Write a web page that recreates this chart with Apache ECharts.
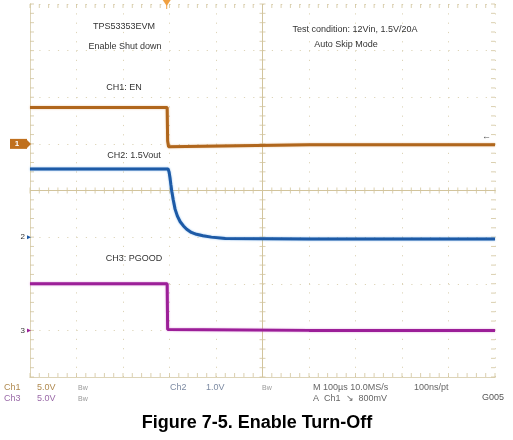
<!DOCTYPE html>
<html>
<head>
<meta charset="utf-8">
<script src="https://cdn.jsdelivr.net/npm/echarts@6/dist/echarts.min.js"></script>
<style>
  html, body { margin: 0; padding: 0; background: #fff; }
  #chart { width: 513px; height: 440px; }
</style>
</head>
<body>
<div id="chart"></div>
<script>
// Scope capture: 100 us/div over 10 divisions, 8 vertical divisions.
// Time is in microseconds from the left edge of the screen.

// CH1: EN (5 V/div)
const ch1Time  = [0, 150, 295, 296, 298, 302, 600, 1000];
const ch1Volts = [3.9, 3.9, 3.9, 0.3, -0.3, -0.1, -0.1, -0.1];

// CH2: 1.5 V output (1 V/div)
const ch2Time  = [0, 150, 297, 299, 301, 303, 305, 308, 312, 317, 323, 330, 337, 347, 358, 372, 390, 420, 600, 1000];
const ch2Volts = [1.46, 1.46, 1.46, 1.40, 1.28, 1.12, 0.98, 0.80, 0.60, 0.45, 0.33, 0.24, 0.17, 0.10, 0.06, 0.03, 0.0, -0.03, -0.04, -0.04];

// CH3: PGOOD (5 V/div)
const ch3Time  = [0, 150, 295, 296, 298, 600, 1000];
const ch3Volts = [5.0, 5.0, 5.0, 0.1, 0.0, 0.0, 0.0];

// Channel display settings: volts per division and ground position (divisions from bottom)
const ch1Scale = 5, ch1Ground = 5;
const ch2Scale = 1, ch2Ground = 3;
const ch3Scale = 5, ch3Ground = 1;

// Trigger time on screen
const triggerTime = 294;

const toTrace = (t, v, scale, ground) => t.map((x, i) => [x, ground + v[i] / scale]);

const gridColor = '#ddd4b8';
const tickColor = '#d2c49c';
const font = '"Liberation Sans", Arial, sans-serif';

// Graticule ticks every 1/5 division: centre crosshair and the four borders
const hTicks = [], vTicks = [], topTicks = [], bottomTicks = [], leftTicks = [], rightTicks = [];
for (let k = 0; k <= 50; k++) {
  hTicks.push([k * 20, 4]);
  topTicks.push([k * 20, 8]);
  bottomTicks.push([k * 20, 0]);
}
for (let k = 0; k <= 40; k++) {
  vTicks.push([500, k * 0.2]);
  leftTicks.push([0, k * 0.2]);
  rightTicks.push([1000, k * 0.2]);
}

const chart = echarts.init(document.getElementById('chart'), null, { renderer: 'canvas' });

const gridAxisX = (pos) => ({
  type: 'value', min: 0, max: 1000, interval: 100, position: pos,
  axisLine: { show: true, lineStyle: { color: gridColor, width: 1 } },
  axisTick: { show: false },
  axisLabel: { show: false },
  splitLine: { show: pos === 'bottom', lineStyle: { color: gridColor, type: [1.2, 8.1], width: 1 } }
});
const gridAxisY = (pos) => ({
  type: 'value', min: 0, max: 8, interval: 1, position: pos,
  axisLine: { show: true, lineStyle: { color: gridColor, width: 1 } },
  axisTick: { show: false },
  axisLabel: { show: false },
  splitLine: { show: pos === 'left', lineStyle: { color: gridColor, type: [1.2, 8.1], width: 1 } }
});

const tickSeries = (data, size, offset) => ({
  type: 'scatter', data, symbol: 'rect', symbolSize: size, symbolOffset: offset, silent: true,
  itemStyle: { color: tickColor }, z: 1
});

const scopeText = (x, y, text, extra) => Object.assign({
  type: 'text', x, y,
  style: Object.assign({ text, fill: '#333', font: '9px ' + font, align: 'center', verticalAlign: 'middle' }, extra || {})
});

chart.setOption({
  animation: false,
  backgroundColor: '#fff',
  grid: { left: 30, right: 18, top: 4, bottom: 63 },
  xAxis: [gridAxisX('bottom'), gridAxisX('top')],
  yAxis: [gridAxisY('left'), gridAxisY('right')],
  series: [
    {
      // centre crosshair lines
      type: 'line', data: [], silent: true,
      markLine: {
        silent: true, symbol: 'none', label: { show: false },
        lineStyle: { color: tickColor, type: 'solid', width: 1 },
        data: [{ xAxis: 500 }, { yAxis: 4 }]
      }
    },
    tickSeries(hTicks, [1, 6], [0, 0]),
    tickSeries(vTicks, [6, 1], [0, 0]),
    tickSeries(topTicks, [1, 4], [0, 2]),
    tickSeries(bottomTicks, [1, 4], [0, -2]),
    tickSeries(leftTicks, [4, 1], [2, 0]),
    tickSeries(rightTicks, [4, 1], [-2, 0]),
    {
      name: 'CH1', type: 'line', showSymbol: false, z: 5,
      data: toTrace(ch1Time, ch1Volts, ch1Scale, ch1Ground),
      lineStyle: { color: '#b0661c', width: 3, shadowColor: 'rgba(214,150,80,0.6)', shadowBlur: 2 }
    },
    {
      name: 'CH2', type: 'line', showSymbol: false, z: 5,
      data: toTrace(ch2Time, ch2Volts, ch2Scale, ch2Ground),
      lineStyle: { color: '#1d5aa6', width: 3, shadowColor: 'rgba(90,160,230,0.7)', shadowBlur: 2 }
    },
    {
      name: 'CH3', type: 'line', showSymbol: false, z: 5,
      data: toTrace(ch3Time, ch3Volts, ch3Scale, ch3Ground),
      lineStyle: { color: '#9c1f98', width: 3, shadowColor: 'rgba(200,90,200,0.6)', shadowBlur: 2 }
    }
  ]
});

// Markers and annotations placed from the chart's own scales
const px = (x, y) => chart.convertToPixel({ gridIndex: 0 }, [x, y]);
const g1 = px(0, ch1Ground), g2 = px(0, ch2Ground), g3 = px(0, ch3Ground);
const trig = px(triggerTime, 8);
const trigLevel = px(1000, ch1Ground + 0.8 / ch1Scale);

const graphics = [
  // trigger position marker
  { type: 'polygon', shape: { points: [[trig[0] - 4, 0], [trig[0] + 4, 0], [trig[0], 6]] }, style: { fill: '#f0a040' }, z: 10 },
  { type: 'rect', shape: { x: trig[0] - 0.5, y: 4, width: 1, height: 5 }, style: { fill: '#f0a040' }, z: 10 },
  // channel ground markers
  { type: 'rect', shape: { x: 10, y: g1[1] - 5, width: 17, height: 10 }, style: { fill: '#c0701e' }, z: 10 },
  { type: 'text', x: 17, y: g1[1], style: { text: '1', fill: '#fff', font: 'bold 8px ' + font, align: 'center', verticalAlign: 'middle' }, z: 11 },
  { type: 'polygon', shape: { points: [[27, g1[1] - 4], [31, g1[1]], [27, g1[1] + 4]] }, style: { fill: '#c0701e' }, z: 10 },
  { type: 'text', x: 25, y: g2[1], style: { text: '2', fill: '#333', font: '8px ' + font, align: 'right', verticalAlign: 'middle' }, z: 10 },
  { type: 'polygon', shape: { points: [[27, g2[1] - 2], [31, g2[1]], [27, g2[1] + 2]] }, style: { fill: '#1d5aa6' }, z: 10 },
  { type: 'text', x: 25, y: g3[1], style: { text: '3', fill: '#333', font: '8px ' + font, align: 'right', verticalAlign: 'middle' }, z: 10 },
  { type: 'polygon', shape: { points: [[27, g3[1] - 2], [31, g3[1]], [27, g3[1] + 2]] }, style: { fill: '#9c1f98' }, z: 10 },
  // trigger level arrow on the right edge
  { type: 'text', x: trigLevel[0] - 4, y: trigLevel[1], style: { text: '←', fill: '#555', font: '9px ' + font, align: 'right', verticalAlign: 'middle' }, z: 10 },

  // annotations on the screen
  scopeText(124, 27, 'TPS53353EVM'),
  scopeText(125, 47, 'Enable Shut down'),
  scopeText(124, 88, 'CH1: EN'),
  scopeText(134, 156, 'CH2: 1.5Vout'),
  scopeText(134, 259, 'CH3: PGOOD'),
  scopeText(355, 30, 'Test condition: 12Vin, 1.5V/20A'),
  scopeText(346, 45, 'Auto Skip Mode'),

  // readout line 1
  scopeText(4, 388, 'Ch1', { align: 'left', fill: '#b08a50' }),
  scopeText(37, 388, '5.0V', { align: 'left', fill: '#b08a50' }),
  scopeText(78, 388, 'Bw', { align: 'left', fill: '#999', font: '7px ' + font }),
  scopeText(170, 388, 'Ch2', { align: 'left', fill: '#7d8ba3' }),
  scopeText(206, 388, '1.0V', { align: 'left', fill: '#7d8ba3' }),
  scopeText(262, 388, 'Bw', { align: 'left', fill: '#999', font: '7px ' + font }),
  scopeText(313, 388, 'M 100µs 10.0MS/s', { align: 'left', fill: '#666' }),
  scopeText(414, 388, '100ns/pt', { align: 'left', fill: '#666' }),
  // readout line 2 (bottom of the screen capture is cut off)
  scopeText(4, 399, 'Ch3', { align: 'left', fill: '#9a6aa8' }),
  scopeText(37, 399, '5.0V', { align: 'left', fill: '#9a6aa8' }),
  scopeText(78, 399, 'Bw', { align: 'left', fill: '#999', font: '7px ' + font }),
  scopeText(313, 399, 'A  Ch1  ↘  800mV', { align: 'left', fill: '#666' }),
  { type: 'rect', shape: { x: 0, y: 401.5, width: 470, height: 6 }, style: { fill: '#fff' }, z: 20 },
  scopeText(482, 398, 'G005', { align: 'left', fill: '#555' }),

  // figure caption
  { type: 'text', x: 257, y: 423, z: 20,
    style: { text: 'Figure 7-5. Enable Turn-Off', fill: '#000', font: 'bold 18px ' + font, align: 'center', verticalAlign: 'middle' } }
];

chart.setOption({ graphic: graphics });
</script>
</body>
</html>
